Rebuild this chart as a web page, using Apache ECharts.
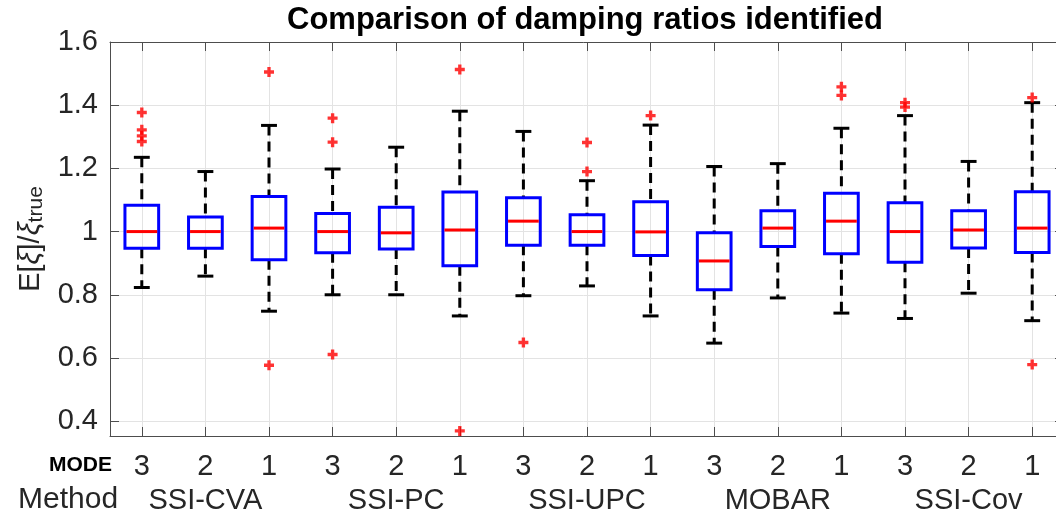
<!DOCTYPE html>
<html><head><meta charset="utf-8">
<script src="https://cdn.jsdelivr.net/npm/echarts@6/dist/echarts.min.js"></script>
<style>html,body{margin:0;padding:0;background:#fff}#c{width:1056px;height:517px}</style>
</head><body><div id="c"></div>
<script>
const modes = ['3','2','1','3','2','1','3','2','1','3','2','1','3','2','1'];
const methods = ['SSI-CVA','SSI-PC','SSI-UPC','MOBAR','SSI-Cov'];
const lowerWhisker = [0.823, 0.859, 0.748, 0.800, 0.800, 0.733, 0.797, 0.828, 0.733, 0.647, 0.790, 0.742, 0.725, 0.805, 0.718];
const q1 =           [0.947, 0.947, 0.911, 0.933, 0.945, 0.892, 0.957, 0.957, 0.924, 0.816, 0.953, 0.930, 0.903, 0.948, 0.934];
const median =       [1.000, 1.000, 1.011, 1.000, 0.996, 1.005, 1.033, 1.000, 0.999, 0.907, 1.011, 1.033, 1.000, 1.005, 1.011];
const q3 =           [1.083, 1.046, 1.111, 1.057, 1.077, 1.125, 1.107, 1.053, 1.094, 0.996, 1.066, 1.121, 1.091, 1.066, 1.126];
const upperWhisker = [1.235, 1.190, 1.336, 1.198, 1.267, 1.381, 1.317, 1.161, 1.337, 1.206, 1.215, 1.327, 1.367, 1.222, 1.408];
const outliers = [
  [0,1.377],[0,1.322],[0,1.303],[0,1.285],
  [2,1.505],[2,0.577],
  [3,1.359],[3,1.283],[3,0.611],
  [5,1.513],[5,0.369],
  [6,0.649],
  [7,1.282],[7,1.190],
  [8,1.367],
  [11,1.458],[11,1.431],
  [12,1.408],[12,1.394],
  [14,1.424],[14,0.579]
];
const yMin = 0.353, yMax = 1.6;

const FONT = '"Liberation Sans", Arial, sans-serif';
const TXT = '#262626';
const AX = '#4d4d4d';
const GRIDC = '#e3e3e3';

const boxData = modes.map((m, i) => [i, lowerWhisker[i], q1[i], median[i], q3[i], upperWhisker[i]]);

function renderBox(params, api) {
  const i = api.value(0);
  const x = api.coord([i, api.value(3)])[0];
  const yLo = api.coord([i, api.value(1)])[1];
  const yQ1 = api.coord([i, api.value(2)])[1];
  const yMed = api.coord([i, api.value(3)])[1];
  const yQ3 = api.coord([i, api.value(4)])[1];
  const yHi = api.coord([i, api.value(5)])[1];
  const band = api.size([1, 0])[0];
  const bw = band * 0.53, cw = band * 0.25;
  return {type: 'group', children: [
    {type: 'line', shape: {x1: x, y1: yHi, x2: x, y2: yQ3}, style: {stroke: '#000', lineWidth: 3, lineDash: [10, 6]}},
    {type: 'line', shape: {x1: x, y1: yQ1, x2: x, y2: yLo}, style: {stroke: '#000', lineWidth: 3, lineDash: [10, 6]}},
    {type: 'line', shape: {x1: x - cw/2, y1: yHi, x2: x + cw/2, y2: yHi}, style: {stroke: '#000', lineWidth: 3}},
    {type: 'line', shape: {x1: x - cw/2, y1: yLo, x2: x + cw/2, y2: yLo}, style: {stroke: '#000', lineWidth: 3}},
    {type: 'rect', shape: {x: x - bw/2, y: yQ3, width: bw, height: yQ1 - yQ3}, style: {stroke: '#0000ff', fill: null, lineWidth: 3}},
    {type: 'line', shape: {x1: x - bw/2 + 1.5, y1: yMed, x2: x + bw/2 - 1.5, y2: yMed}, style: {stroke: '#ff0000', lineWidth: 3}}
  ]};
}

const chart = echarts.init(document.getElementById('c'), null, {renderer: 'canvas'});
chart.setOption({
  animation: false,
  backgroundColor: '#fff',
  grid: {left: 110, top: 42, right: -8, bottom: 81, containLabel: false, outerBoundsMode: 'none'},
  xAxis: [
    {type: 'category', data: modes, position: 'bottom', boundaryGap: true,
     axisLine: {show: true, lineStyle: {color: AX, width: 1}},
     axisTick: {show: true, inside: true, alignWithLabel: true, length: 9, lineStyle: {color: AX}},
     axisLabel: {show: true, color: TXT, fontSize: 29, fontFamily: FONT, margin: 16, interval: 0},
     splitLine: {show: true, alignWithLabel: true, interval: 0, lineStyle: {color: GRIDC, width: 1}}},
    {type: 'category', data: modes, position: 'top', boundaryGap: true,
     axisLine: {show: true, lineStyle: {color: AX, width: 1}},
     axisTick: {show: true, inside: true, alignWithLabel: true, length: 9, lineStyle: {color: AX}},
     axisLabel: {show: false}, splitLine: {show: false}},
    {type: 'category', data: methods, position: 'bottom', boundaryGap: true,
     axisLine: {show: false}, axisTick: {show: false}, splitLine: {show: false},
     axisLabel: {show: true, color: TXT, fontSize: 29, fontFamily: FONT, margin: 50, interval: 0}}
  ],
  yAxis: [
    {type: 'value', min: yMin, max: yMax, splitNumber: 6, position: 'left',
     name: '{e|E[}{x|ξ}{e|]/}{x|ξ}{s|true}', nameLocation: 'middle', nameRotate: 90, nameGap: 59,
     nameTextStyle: {color: TXT, fontFamily: FONT, rich: {
       e: {fontSize: 29, fontFamily: FONT, color: TXT, lineHeight: 30, verticalAlign: 'top'},
       x: {fontSize: 29, fontFamily: FONT, color: TXT, fontStyle: 'italic', lineHeight: 30, verticalAlign: 'top'},
       s: {fontSize: 21, fontFamily: FONT, color: TXT, lineHeight: 21, padding: [27, 0, 0, 0], verticalAlign: 'bottom'}
     }},
     axisLine: {show: true, lineStyle: {color: AX, width: 1}},
     axisTick: {show: true, inside: true, length: 9, lineStyle: {color: AX}},
     axisLabel: {color: TXT, fontSize: 29, fontFamily: FONT, margin: 12,
       formatter: v => (Math.abs(v * 5 - Math.round(v * 5)) < 1e-6) ? String(+v.toFixed(1)) : ''},
     splitLine: {show: true, lineStyle: {color: GRIDC, width: 1}}},
    {type: 'value', min: yMin, max: yMax, splitNumber: 6, position: 'right',
     axisLine: {show: true, lineStyle: {color: AX, width: 1}},
     axisTick: {show: true, inside: true, length: 9, lineStyle: {color: AX}},
     axisLabel: {show: false}, splitLine: {show: false}}
  ],
  graphic: [
    {type: 'text', x: 585, y: 20, style: {text: 'Comparison of damping ratios identified', fontSize: 31, fontWeight: 'bold', fontFamily: FONT, fill: '#000', align: 'center', verticalAlign: 'middle'}},
    {type: 'text', x: 112, y: 465, style: {text: 'MODE', fontSize: 21, fontWeight: 'bold', fontFamily: FONT, fill: '#000', align: 'right', verticalAlign: 'middle'}},
    {type: 'text', x: 18, y: 500, style: {text: 'Method', fontSize: 30, fontFamily: FONT, fill: TXT, align: 'left', verticalAlign: 'middle'}}
  ],
  series: [
    {type: 'custom', xAxisIndex: 0, yAxisIndex: 0, data: boxData, renderItem: renderBox,
     encode: {x: 0, y: [1, 2, 3, 4, 5]}, z: 3},
    {type: 'scatter', xAxisIndex: 0, yAxisIndex: 0, data: outliers,
     symbol: 'path://M3,0H6V3H9V6H6V9H3V6H0V3H3Z', symbolSize: 10,
     itemStyle: {color: '#ff0000'}, z: 4}
  ]
});
</script></body></html>
